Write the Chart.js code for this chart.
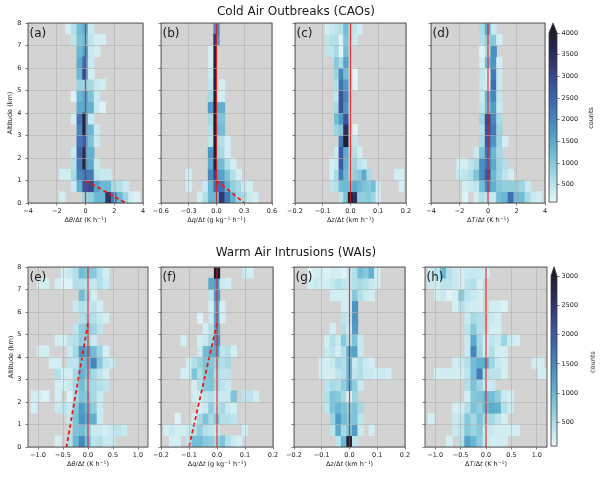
<!DOCTYPE html>
<html>
<head>
<meta charset="utf-8">
<script src="https://cdn.jsdelivr.net/npm/chart.js@4.4.1/dist/chart.umd.min.js"></script>
<style>
  body { margin: 0; background: #fff; font-family: "DejaVu Sans", sans-serif; }
  #fig { position: relative; width: 600px; height: 478px; overflow: hidden; }
  #fig canvas { position: absolute; }
  .t { position: absolute; white-space: nowrap; color: #1a1a1a; line-height: 1; }
  .t sup { font-size: 70%; vertical-align: 0.45em; line-height: 0; }
</style>
</head>
<body>
<div id="fig"></div>
<script>
// ---- data ------------------------------------------------------------------

// altitude bin centres (km), bottom to top
const altBins = [0.25, 0.75, 1.25, 1.75, 2.25, 2.75, 3.25, 3.75, 4.25, 4.75, 5.25, 5.75, 6.25, 6.75, 7.25, 7.75];
const altitudeTicks = [0, 1, 2, 3, 4, 5, 6, 7, 8];

// x bin centres
const caoThetaBins = [-4, -3.6, -3.2, -2.8, -2.4, -2, -1.6, -1.2, -0.8, -0.4, 0, 0.4, 0.8, 1.2, 1.6, 2, 2.4, 2.8, 3.2, 3.6, 4];
const caoQBins = [-0.6, -0.54, -0.48, -0.42, -0.36, -0.3, -0.24, -0.18, -0.12, -0.06, 0, 0.06, 0.12, 0.18, 0.24, 0.3, 0.36, 0.42, 0.48, 0.54, 0.6];
const caoZBins = [-0.2, -0.1833, -0.1667, -0.15, -0.1333, -0.1167, -0.1, -0.0833, -0.0667, -0.05, -0.0333, -0.0167, 0, 0.0167, 0.0333, 0.05, 0.0667, 0.0833, 0.1, 0.1167, 0.1333, 0.15, 0.1667, 0.1833, 0.2];
const waiThetaBins = [-1.2, -1.08, -0.96, -0.84, -0.72, -0.6, -0.48, -0.36, -0.24, -0.12, 0, 0.12, 0.24, 0.36, 0.48, 0.6, 0.72, 0.84, 0.96, 1.08, 1.2];
const waiSmallBins = [-0.2, -0.18, -0.16, -0.14, -0.12, -0.1, -0.08, -0.06, -0.04, -0.02, 0, 0.02, 0.04, 0.06, 0.08, 0.1, 0.12, 0.14, 0.16, 0.18, 0.2];

// x tick labels
const caoThetaTicks = [-4, -2, 0, 2, 4];
const caoQTicks = [-0.6, -0.3, 0, 0.3, 0.6];
const zTicks = [-0.2, -0.1, 0, 0.1, 0.2];
const waiThetaTicks = [-1, -0.5, 0, 0.5, 1];
const cbTicksCao = [500, 1000, 1500, 2000, 2500, 3000, 3500, 4000];
const cbTicksWai = [500, 1000, 1500, 2000, 2500, 3000];

// counts per (altitude row, x bin), rows bottom to top
const caoThetaCounts = [
  [0,0,0,0,0,0,300,0,0,0,800,900,1300,1300,3400,2200,1300,800,300,200,0],
  [0,0,0,0,0,0,0,0,400,1400,2800,3000,1600,1300,1300,700,600,400,0,0,0],
  [0,0,0,0,0,0,300,300,700,2000,2200,2200,500,400,400,0,0,0,0,0,0],
  [0,0,0,0,0,0,0,0,600,2200,1600,1500,400,0,0,0,0,0,0,0,0],
  [0,0,0,0,0,0,0,0,400,2500,1500,1400,0,0,0,0,0,0,0,0,0],
  [0,0,0,0,0,0,0,0,0,2300,1500,1100,400,0,0,0,0,0,0,0,0],
  [0,0,0,0,0,0,0,0,0,2000,1500,1300,400,0,0,0,0,0,0,0,0],
  [0,0,0,0,0,0,0,0,300,2300,1500,400,0,0,0,0,0,0,0,0,0],
  [0,0,0,0,0,0,0,0,0,1500,1500,1400,400,200,0,0,0,0,0,0,0],
  [0,0,0,0,0,0,0,0,200,1300,1500,1100,400,0,0,0,0,0,0,0,0],
  [0,0,0,0,0,0,0,0,0,800,800,700,400,300,0,0,0,0,0,0,0],
  [0,0,0,0,0,0,0,0,0,1300,1500,300,0,0,0,0,0,0,0,0,0],
  [0,0,0,0,0,0,0,0,0,1500,1500,400,0,0,0,0,0,0,0,0,0],
  [0,0,0,0,0,0,0,0,0,1300,1600,400,300,0,0,0,0,0,0,0,0],
  [0,0,0,0,0,0,0,0,500,1100,1200,500,300,300,0,0,0,0,0,0,0],
  [0,0,0,0,0,0,0,300,600,1200,1400,400,0,0,0,0,0,0,0,0,0]
];
// narrow bin just left of zero
const caoThetaStrip = [0,0,0,3800,3600,2600,3800,3800,0,0,0,3000,2400,0,0,0];
const caoThetaStripEdges = [-0.2, 0];

const caoQCounts = [
  [0,0,0,0,0,0,0,300,600,1300,1300,3300,2200,1400,800,700,400,300,0,0,0],
  [0,0,0,0,0,300,0,0,400,1300,2400,2400,1400,900,700,400,300,0,0,0,0],
  [0,0,0,0,0,300,0,0,0,2000,1700,1600,1100,600,300,0,0,0,0,0,0],
  [0,0,0,0,0,0,0,0,0,1500,1300,1200,600,300,0,0,0,0,0,0,0],
  [0,0,0,0,0,0,0,0,0,1800,800,700,300,0,0,0,0,0,0,0,0],
  [0,0,0,0,0,0,0,0,0,500,700,600,300,0,0,0,0,0,0,0,0],
  [0,0,0,0,0,0,0,0,0,600,1300,1200,0,0,0,0,0,0,0,0,0],
  [0,0,0,0,0,0,0,0,0,700,1200,1100,0,0,0,0,0,0,0,0,0],
  [0,0,0,0,0,0,0,0,0,1700,1500,1400,0,0,0,0,0,0,0,0,0],
  [0,0,0,0,0,0,0,0,0,700,400,300,0,0,0,0,0,0,0,0,0],
  [0,0,0,0,0,0,0,0,0,500,0,300,0,0,0,0,0,0,0,0,0],
  [0,0,0,0,0,0,0,0,0,400,0,0,0,0,0,0,0,0,0,0,0],
  [0,0,0,0,0,0,0,0,0,300,0,0,0,0,0,0,0,0,0,0,0],
  [0,0,0,0,0,0,0,0,0,300,0,0,0,0,0,0,0,0,0,0,0],
  [0,0,0,0,0,0,0,0,0,0,1800,0,0,0,0,0,0,0,0,0,0],
  [0,0,0,0,0,0,0,0,0,0,2000,0,0,0,0,0,0,0,0,0,0]
];
const caoQStrip = [0,0,3100,3900,4000,4000,4000,4000,4000,4000,3900,3900,3900,3900,3300,0];
const caoQStripEdges = [-0.03, 0];

const caoZCounts = [
  [0,0,0,0,0,0,0,0,0,0,500,1100,4200,3500,900,900,1000,800,300,0,0,0,0,0,0],
  [0,0,0,0,0,0,0,0,500,600,1200,1300,1200,1500,1300,1100,1000,1200,400,0,0,0,0,300,0],
  [0,0,0,0,0,0,0,0,300,700,2200,1300,0,900,1000,1500,700,0,0,0,0,0,300,300,0],
  [0,0,0,0,0,0,0,0,300,400,2700,1400,0,800,500,400,0,0,0,0,0,0,0,0,0],
  [0,0,0,0,0,0,0,0,0,400,2700,1500,0,600,300,0,0,0,0,0,0,0,0,0,0],
  [0,0,0,0,0,0,0,0,0,0,2200,4000,0,500,0,0,0,0,0,0,0,0,0,0,0],
  [0,0,0,0,0,0,0,0,0,800,1000,3500,0,200,0,0,0,0,0,0,0,0,0,0,0],
  [0,0,0,0,0,0,0,0,0,1200,1700,2800,0,0,0,0,0,0,0,0,0,0,0,0,0],
  [0,0,0,0,0,0,0,0,0,700,2800,1800,0,0,0,0,0,0,0,0,0,0,0,0,0],
  [0,0,0,0,0,0,0,0,0,500,2800,2000,0,0,0,0,0,0,0,0,0,0,0,0,0],
  [0,0,0,0,0,0,0,0,0,600,2300,1700,0,200,0,0,0,0,0,0,0,0,0,0,0],
  [0,0,0,0,0,0,0,0,0,800,2000,1200,0,150,0,0,0,0,0,0,0,0,0,0,0],
  [0,0,0,0,0,0,0,0,0,1000,700,1600,0,0,0,0,0,0,0,0,0,0,0,0,0],
  [0,0,0,0,0,0,0,500,500,700,150,1200,0,0,0,0,0,0,0,0,0,0,0,0,0],
  [0,0,0,0,0,0,0,500,600,600,200,1100,0,400,0,0,0,0,0,0,0,0,0,0,0],
  [0,0,0,0,0,0,0,300,400,500,600,1200,0,500,300,0,0,0,0,0,0,0,0,0,0]
];

const caoTCounts = [
  [0,0,0,0,0,0,200,0,300,600,500,400,1200,1300,2400,1300,1200,700,400,300,0],
  [0,0,0,0,0,0,300,400,500,1200,2000,1400,1000,900,900,900,800,400,0,0,0],
  [0,0,0,0,0,400,500,600,1100,1900,2800,1300,800,500,300,0,0,0,0,0,0],
  [0,0,0,0,0,300,300,500,700,1900,2300,1500,800,600,0,0,0,0,0,0,0],
  [0,0,0,0,0,0,0,0,400,1100,2300,1300,700,0,0,0,0,0,0,0,0],
  [0,0,0,0,0,0,0,0,0,700,2700,1800,800,300,0,0,0,0,0,0,0],
  [0,0,0,0,0,0,0,0,0,600,2800,2200,800,0,0,0,0,0,0,0,0],
  [0,0,0,0,0,0,0,0,0,800,3000,2000,700,0,0,0,0,0,0,0,0],
  [0,0,0,0,0,0,0,0,0,500,1200,1700,400,0,0,0,0,0,0,0,0],
  [0,0,0,0,0,0,0,0,0,400,1300,2000,500,0,0,0,0,0,0,0,0],
  [0,0,0,0,0,0,0,0,0,400,300,2400,400,0,0,0,0,0,0,0,0],
  [0,0,0,0,0,0,0,0,0,500,300,2200,400,0,0,0,0,0,0,0,0],
  [0,0,0,0,0,0,0,0,0,300,1200,1800,300,0,0,0,0,0,0,0,0],
  [0,0,0,0,0,0,0,0,0,200,700,1900,0,0,0,0,0,0,0,0,0],
  [0,0,0,0,0,0,0,0,0,600,900,1000,300,0,0,0,0,0,0,0,0],
  [0,0,0,0,0,0,0,0,0,700,1500,400,0,0,0,0,0,0,0,0,0]
];

const waiThetaCounts = [
  [0,0,0,0,0,250,0,470,990,1515,920,400,470,325,325,0,0,0,0,0,0],
  [0,0,0,0,0,0,0,0,840,920,700,325,325,250,325,400,325,0,0,0,0],
  [0,0,0,0,0,0,0,325,840,1365,1140,1070,325,0,0,0,0,0,0,0,0],
  [0,250,0,0,0,325,400,325,770,1290,990,700,325,0,0,0,0,0,0,0,0],
  [0,250,250,175,0,250,0,175,550,840,770,550,325,0,0,0,0,0,0,0,0],
  [0,0,0,0,0,250,250,325,550,920,620,550,470,400,0,0,0,0,0,0,0],
  [0,0,0,0,0,470,250,250,550,1070,840,550,400,250,0,0,0,0,0,0,0],
  [0,0,0,0,250,250,0,400,400,920,990,1515,770,400,325,0,0,0,0,0,0],
  [0,0,250,250,0,0,0,325,550,1365,1215,920,620,250,0,0,0,0,0,0,0],
  [0,0,0,0,0,250,250,400,470,700,620,325,0,0,0,0,0,0,0,0,0],
  [0,0,0,0,0,0,0,0,400,700,770,620,400,0,0,0,0,0,0,0,0],
  [0,0,0,0,0,0,0,0,0,470,550,470,325,250,0,0,0,0,0,0,0],
  [0,0,0,0,0,0,0,0,325,470,400,400,250,0,0,0,0,0,0,0,0],
  [0,0,0,0,0,0,0,0,0,920,550,250,0,0,0,0,0,0,0,0,0],
  [0,0,250,250,0,250,175,175,470,470,400,325,470,325,0,0,0,0,0,0,0],
  [0,0,0,0,0,0,250,325,470,920,840,770,470,250,0,0,0,0,0,0,0]
];

const waiQCounts = [
  [0,0,250,250,0,400,920,920,770,700,550,840,470,325,250,0,0,0,0,0,0],
  [0,250,325,250,250,325,470,700,470,400,325,0,0,0,0,250,0,0,0,0,0],
  [0,0,0,175,0,0,250,550,840,550,770,470,470,400,0,0,0,0,0,0,0],
  [0,0,0,0,0,0,0,250,325,700,400,550,325,250,0,0,0,0,0,0,0],
  [0,0,0,0,0,0,250,250,400,470,325,325,325,840,0,400,400,250,0,0,0],
  [0,0,0,0,0,0,250,470,770,840,550,400,325,0,0,0,0,0,0,0,0],
  [0,0,0,0,250,250,840,470,770,840,470,400,400,0,0,0,0,0,0,0,0],
  [0,0,0,0,0,250,470,620,840,770,620,470,550,0,0,0,0,0,0,0,0],
  [0,0,0,0,0,0,0,325,920,1070,1140,400,470,250,0,0,0,0,0,0,0],
  [0,0,0,0,250,0,0,250,325,550,1365,0,0,0,0,0,0,0,0,0,0],
  [0,0,0,0,0,0,0,0,250,470,1140,0,0,0,0,0,0,0,0,0,0],
  [0,0,0,0,0,0,0,175,0,325,1215,250,0,0,0,0,0,0,0,0,0],
  [0,0,0,0,0,0,0,0,0,250,1070,250,0,0,0,0,0,0,0,0,0],
  [0,0,0,0,0,0,0,0,0,400,1365,0,0,0,0,0,0,0,0,0,0],
  [0,0,0,0,0,0,0,0,0,1140,1290,325,250,0,0,0,0,0,0,0,0],
  [0,0,0,0,0,0,0,0,0,0,3100,0,0,0,0,325,250,0,0,0,0]
];

const waiZCounts = [
  [0,0,0,0,0,0,0,0,400,990,3200,400,0,0,0,0,0,0,0,0,0],
  [0,0,0,0,0,0,0,400,1140,550,840,1290,325,0,250,0,0,0,0,0,0],
  [0,0,0,0,0,0,0,620,1290,920,770,840,400,0,0,0,0,0,0,0,0],
  [0,0,0,0,0,0,400,840,990,840,700,840,550,0,0,0,0,0,0,0,0],
  [0,0,0,0,0,0,470,840,770,550,175,620,0,0,0,0,0,0,0,0,0],
  [0,0,0,0,0,0,400,550,470,700,1070,700,325,0,0,0,0,0,0,0,0],
  [0,0,0,0,0,250,250,250,400,470,990,400,470,325,325,250,325,250,0,0,0],
  [0,0,0,0,0,250,250,325,550,470,990,325,470,325,250,0,0,0,0,0,0],
  [0,0,0,0,0,0,325,400,250,470,1070,1215,325,0,0,0,0,0,0,0,0],
  [0,0,0,0,0,0,250,470,325,770,400,840,325,0,0,0,0,0,0,0,0],
  [0,0,0,0,0,0,0,250,0,470,250,1290,0,0,0,0,0,0,0,0,0],
  [0,0,0,0,0,0,0,0,0,400,325,1365,0,0,0,0,0,0,0,0,0],
  [0,0,0,0,0,0,0,0,0,250,250,1365,0,0,0,0,0,0,0,0,0],
  [0,0,0,0,0,0,0,250,250,250,250,770,470,325,250,0,0,0,0,0,0],
  [0,0,0,250,325,250,250,325,470,400,325,470,550,470,325,250,0,0,0,0,0],
  [0,0,0,175,250,250,175,250,250,175,325,470,920,770,1070,250,0,0,0,0,0]
];

const waiTCounts = [
  [0,0,0,0,250,0,470,1215,990,700,325,250,250,250,0,0,0,0,0,0,0],
  [0,0,0,0,0,325,400,770,620,770,325,325,250,250,250,250,0,0,0,0,0],
  [0,250,0,0,0,325,400,770,550,840,550,550,400,250,0,0,0,0,0,0,0],
  [0,0,0,0,0,250,250,470,840,700,990,1140,1070,470,325,0,0,0,0,0,0],
  [0,0,0,0,0,0,0,250,770,840,990,920,700,325,250,0,0,0,0,0,0],
  [0,0,0,0,0,0,0,470,840,620,325,325,0,0,0,0,0,0,0,0,0],
  [0,0,250,250,250,250,250,400,920,1660,470,400,400,250,0,0,0,0,0,250,250],
  [0,0,0,0,0,250,325,470,920,1070,1140,620,325,250,0,0,0,0,250,250,0],
  [0,0,0,0,0,0,0,325,1515,620,250,470,250,250,0,0,0,0,0,0,0],
  [0,0,0,0,0,0,0,325,1140,550,250,400,325,620,325,250,0,0,0,0,0],
  [0,0,0,0,0,0,0,400,770,470,0,250,250,0,0,0,0,0,0,0,0],
  [0,0,0,0,0,0,0,325,550,470,0,325,250,0,0,0,0,0,0,0,0],
  [0,0,0,0,0,250,470,325,250,250,0,250,250,175,0,0,0,0,0,0,0],
  [0,0,250,325,175,250,770,400,325,250,0,0,0,0,0,0,0,0,0,0,0],
  [0,325,250,400,400,325,250,400,470,250,0,0,0,0,0,0,0,0,0,0,0],
  [0,325,400,990,470,325,250,325,325,325,250,0,0,0,0,0,0,0,0,0,0]
];

// zero reference line and dashed fit lines (x value, altitude km)
const zeroLineX = [0, 0];
const zeroLineZ = [0, 8];
const caoThetaFitX = [0, 2.8];
const caoThetaFitZ = [1, 0];
const caoQFitX = [0, 0.3];
const caoQFitZ = [1, 0];
const waiThetaFitX = [0, -0.43];
const waiThetaFitZ = [5.5, 0];
const waiQFitX = [0, -0.1];
const waiQFitZ = [5.5, 0];

// ---- colour map (ice, reversed) -------------------------------------------
const VMIN = 100;
const ICE = ['#e8f7f9', '#bfe5ec', '#93d0de', '#6cbad4', '#529fc8', '#4684bd',
             '#3f69b0', '#3d519c', '#363c7c', '#282a52', '#1f2033'];
const OVER = '#1a1b2b';
const iceRgb = ICE.map(h => [1, 3, 5].map(i => parseInt(h.substr(i, 2), 16)));

function countColor(c, vmax) {
  if (c > vmax) return OVER;
  const t = Math.min(1, Math.max(0, (c - VMIN) / (vmax - VMIN))) * (iceRgb.length - 1);
  const i = Math.min(Math.floor(t), iceRgb.length - 2);
  const f = t - i;
  const a = iceRgb[i], b = iceRgb[i + 1];
  return 'rgb(' + a.map((v, k) => Math.round(v + (b[k] - v) * f)).join(',') + ')';
}

// ---- layout ----------------------------------------------------------------
const FONT = '"DejaVu Sans", sans-serif';
const TICK_FONT = { family: FONT, size: 6.5 };
const PAD_L = 24, PAD_R = 9, PAD_T = 8, PAD_B = 14;
const fig = document.getElementById('fig');

function addText(html, x, y, size, opts = {}) {
  const d = document.createElement('div');
  d.className = 't';
  d.innerHTML = html;
  d.style.left = x + 'px';
  d.style.top = y + 'px';
  d.style.fontSize = size + 'px';
  const tx = opts.left ? '0' : '-50%';
  d.style.transform = 'translate(' + tx + ',-50%)' + (opts.rot ? ' rotate(-90deg)' : '');
  fig.appendChild(d);
}

function fmtTick(v, dec) {
  return Number(v).toFixed(dec).replace('-', '\u2212');
}

const panelStyle = {
  id: 'panelStyle',
  beforeDraw(chart) {
    const a = chart.chartArea, ctx = chart.ctx;
    ctx.save();
    ctx.fillStyle = '#d3d3d3';
    ctx.fillRect(a.left, a.top, a.right - a.left, a.bottom - a.top);
    ctx.restore();
  },
  afterDraw(chart) {
    const a = chart.chartArea, ctx = chart.ctx;
    ctx.save();
    ctx.strokeStyle = '#3a3a3a';
    ctx.lineWidth = 0.8;
    ctx.strokeRect(a.left, a.top, a.right - a.left, a.bottom - a.top);
    ctx.restore();
  }
};

function makePanel(p) {
  const [l, t, r, b] = p.box;
  const cv = document.createElement('canvas');
  cv.width = r - l + PAD_L + PAD_R;
  cv.height = b - t + PAD_T + PAD_B;
  cv.style.left = (l - PAD_L) + 'px';
  cv.style.top = (t - PAD_T) + 'px';
  fig.appendChild(cv);

  const w = p.bins[1] - p.bins[0];
  const cells = [];
  p.counts.forEach((row, ri) => row.forEach((c, j) => {
    if (c > 0) cells.push({ x: [p.bins[j] - w / 2, p.bins[j] + w / 2], y: altBins[ri], c });
  }));
  const cellColor = ctx => ctx.raw ? countColor(ctx.raw.c, p.vmax) : 'rgba(0,0,0,0)';

  const datasets = [{
    type: 'line', indexAxis: 'y',
    data: zeroLineX.map((x, i) => ({ x, y: zeroLineZ[i] })),
    borderColor: 'rgba(228,22,22,0.85)', borderWidth: 1.2, pointRadius: 0, order: 0
  }];
  if (p.fitX) {
    datasets.push({
      type: 'line', indexAxis: 'y',
      data: p.fitX.map((x, i) => ({ x, y: p.fitZ[i] })),
      borderColor: '#f51414', borderWidth: 1.8, borderDash: [4, 2.8], pointRadius: 0, order: 0
    });
  }
  if (p.strip) {
    const sc = [];
    p.strip.forEach((c, ri) => { if (c > 0) sc.push({ x: p.stripEdges.slice(), y: altBins[ri], c }); });
    datasets.push({
      type: 'bar', data: sc, backgroundColor: cellColor, borderWidth: 0,
      grouped: false, barPercentage: 1, categoryPercentage: 1, order: 1
    });
  }
  datasets.push({
    type: 'bar', data: cells, backgroundColor: cellColor, borderWidth: 0,
    grouped: false, barPercentage: 1, categoryPercentage: 1, order: 2
  });

  const gridCommon = { lineWidth: 0.6, z: 1, tickColor: '#2a2a2a', tickLength: 2.5, drawTicks: true, offset: false };

  new Chart(cv, {
    type: 'bar',
    data: { datasets },
    options: {
      indexAxis: 'y',
      responsive: false,
      animation: false,
      events: [],
      layout: { padding: { left: 0, right: PAD_R, top: PAD_T, bottom: 0 } },
      plugins: { legend: { display: false }, tooltip: { enabled: false } },
      scales: {
        x: {
          type: 'linear', min: p.xMin, max: p.xMax, offset: false,
          afterBuildTicks: s => { s.ticks = p.xTicks.map(v => ({ value: v })); },
          afterFit: s => { s.height = PAD_B; },
          ticks: { font: TICK_FONT, color: '#222', padding: 1.5, maxRotation: 0, autoSkip: false,
                   callback: v => fmtTick(v, p.dec) },
          grid: Object.assign({}, gridCommon, {
            color: ctx => (ctx.tick && ctx.tick.value === 0) ? 'rgba(0,0,0,0)' : '#b0b0b0'
          }),
          border: { display: false }
        },
        y: {
          type: 'linear', min: 0, max: 8, position: 'left', offset: false,
          afterBuildTicks: s => { s.ticks = altitudeTicks.map(v => ({ value: v })); },
          afterFit: s => { s.width = PAD_L; },
          ticks: { font: TICK_FONT, color: '#222', padding: 4, autoSkip: false,
                   callback: v => p.yLabels ? String(v) : '' },
          grid: Object.assign({}, gridCommon, { color: '#b0b0b0' }),
          border: { display: false }
        }
      }
    },
    plugins: [panelStyle]
  });

  addText(p.tag, l + 1.5, t + 10, 12, { left: true });
  addText(p.xLabel, (l + r) / 2, b + 16.5, 6.5);
}

const CB_W = 40, CB_TOP = 13, CB_BOT = 5;
function makeColorbar(cb) {
  const [l, t, r, b] = cb.box;
  const cv = document.createElement('canvas');
  cv.width = r - l + 1 + CB_W;
  cv.height = b - t + CB_TOP + CB_BOT;
  cv.style.left = (l - 1) + 'px';
  cv.style.top = (t - CB_TOP) + 'px';
  fig.appendChild(cv);

  // colour swatches spanning the scale
  const n = 120, step = (cb.vmax - VMIN) / n;
  const levels = [];
  for (let i = 0; i < n; i++) {
    const v = VMIN + (i + 0.5) * step;
    levels.push({ x: [0, 1], y: v, c: v });
  }

  new Chart(cv, {
    type: 'bar',
    data: { datasets: [{
      data: levels, backgroundColor: ctx => ctx.raw ? countColor(ctx.raw.c, cb.vmax) : 'rgba(0,0,0,0)',
      borderWidth: 0, grouped: false, barPercentage: 1, categoryPercentage: 1, inflateAmount: 0.6
    }] },
    options: {
      indexAxis: 'y', responsive: false, animation: false, events: [],
      layout: { padding: { left: 1, right: 0, top: CB_TOP, bottom: CB_BOT } },
      plugins: { legend: { display: false }, tooltip: { enabled: false } },
      scales: {
        x: { display: false, type: 'linear', min: 0, max: 1, offset: false },
        y: {
          type: 'linear', position: 'right', min: VMIN, max: cb.vmax, offset: false,
          afterBuildTicks: s => { s.ticks = cb.ticks.map(v => ({ value: v })); },
          afterFit: s => { s.width = CB_W; },
          ticks: { font: TICK_FONT, color: '#222', padding: 2, autoSkip: false, callback: v => String(v) },
          grid: { drawOnChartArea: false, drawTicks: true, tickLength: 2.5, tickColor: '#2a2a2a', lineWidth: 0.6, offset: false },
          border: { display: false }
        }
      }
    },
    plugins: [{
      id: 'cbFrame',
      afterDraw(chart) {
        const a = chart.chartArea, ctx = chart.ctx;
        const h = cb.tri;
        ctx.save();
        ctx.beginPath();
        ctx.moveTo(a.left, a.top);
        ctx.lineTo((a.left + a.right) / 2, a.top - h);
        ctx.lineTo(a.right, a.top);
        ctx.closePath();
        ctx.fillStyle = OVER;
        ctx.fill();
        ctx.beginPath();
        ctx.moveTo(a.left, a.top);
        ctx.lineTo(a.left, a.bottom);
        ctx.lineTo(a.right, a.bottom);
        ctx.lineTo(a.right, a.top);
        ctx.lineTo((a.left + a.right) / 2, a.top - h);
        ctx.closePath();
        ctx.strokeStyle = '#3a3a3a';
        ctx.lineWidth = 0.8;
        ctx.stroke();
        ctx.restore();
      }
    }]
  });

  addText('counts', l + 41.5, (t + b) / 2, 6.5, { rot: true });
}

// ---- figure ----------------------------------------------------------------
const lblTheta = '\u0394<i>\u03b8</i>/\u0394<i>t</i> (K h<sup>\u22121</sup>)';
const lblQ = '\u0394<i>q</i>/\u0394<i>t</i> (g kg<sup>\u22121</sup> h<sup>\u22121</sup>)';
const lblZ = '\u0394<i>z</i>/\u0394<i>t</i> (km h<sup>\u22121</sup>)';
const lblT = '\u0394<i>T</i>/\u0394<i>t</i> (K h<sup>\u22121</sup>)';

const panels = [
  { tag: '(a)', box: [28, 23, 143, 203], counts: caoThetaCounts, bins: caoThetaBins, strip: caoThetaStrip, stripEdges: caoThetaStripEdges,
    fitX: caoThetaFitX, fitZ: caoThetaFitZ, xMin: -4, xMax: 4, xTicks: caoThetaTicks, dec: 0, vmax: 4000, yLabels: true, xLabel: lblTheta },
  { tag: '(b)', box: [161, 23, 272, 203], counts: caoQCounts, bins: caoQBins, strip: caoQStrip, stripEdges: caoQStripEdges,
    fitX: caoQFitX, fitZ: caoQFitZ, xMin: -0.6, xMax: 0.6, xTicks: caoQTicks, dec: 1, vmax: 4000, xLabel: lblQ },
  { tag: '(c)', box: [295, 23, 406, 203], counts: caoZCounts, bins: caoZBins,
    xMin: -0.2, xMax: 0.2, xTicks: zTicks, dec: 1, vmax: 4000, xLabel: lblZ },
  { tag: '(d)', box: [431, 23, 545, 203], counts: caoTCounts, bins: caoThetaBins,
    xMin: -4, xMax: 4, xTicks: caoThetaTicks, dec: 0, vmax: 4000, xLabel: lblT },
  { tag: '(e)', box: [28, 267, 148, 447], counts: waiThetaCounts, bins: waiThetaBins,
    fitX: waiThetaFitX, fitZ: waiThetaFitZ, xMin: -1.2, xMax: 1.2, xTicks: waiThetaTicks, dec: 1, vmax: 3000, yLabels: true, xLabel: lblTheta },
  { tag: '(f)', box: [161, 267, 273, 447], counts: waiQCounts, bins: waiSmallBins,
    fitX: waiQFitX, fitZ: waiQFitZ, xMin: -0.2, xMax: 0.2, xTicks: zTicks, dec: 1, vmax: 3000, xLabel: lblQ },
  { tag: '(g)', box: [294, 267, 405, 447], counts: waiZCounts, bins: waiSmallBins,
    xMin: -0.2, xMax: 0.2, xTicks: zTicks, dec: 1, vmax: 3000, xLabel: lblZ },
  { tag: '(h)', box: [425, 267, 547, 447], counts: waiTCounts, bins: waiThetaBins,
    xMin: -1.2, xMax: 1.2, xTicks: waiThetaTicks, dec: 1, vmax: 3000, xLabel: lblT }
];

panels.forEach(makePanel);

makeColorbar({ box: [549, 33, 557, 203], vmax: 4000, ticks: cbTicksCao, tri: 10 });
makeColorbar({ box: [551, 276, 557, 447], vmax: 3000, ticks: cbTicksWai, tri: 9.3 });

addText('Cold Air Outbreaks (CAOs)', 296, 11, 12);
addText('Warm Air Intrusions (WAIs)', 296, 252, 12);
addText('Altitude (km)', 10, 113, 6.5, { rot: true });
addText('Altitude (km)', 11, 357, 6.5, { rot: true });
</script>
</body>
</html>
